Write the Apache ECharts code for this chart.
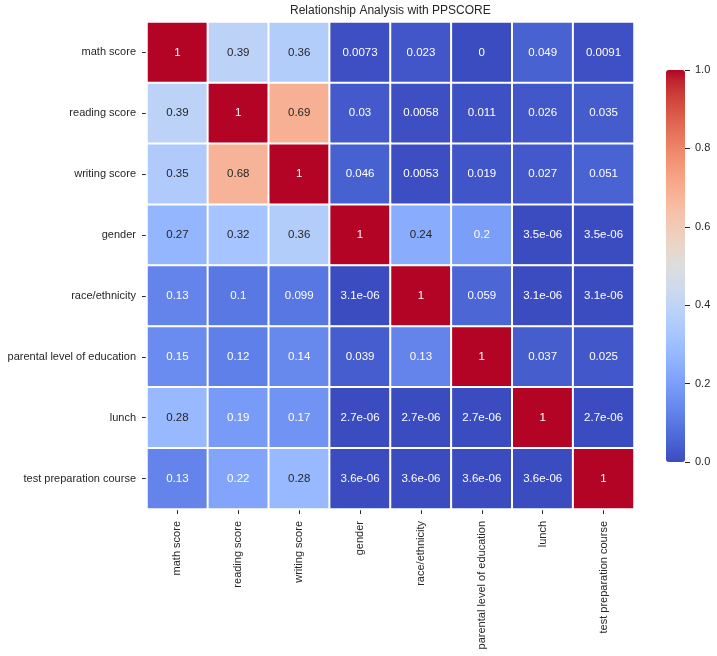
<!DOCTYPE html>
<html>
<head>
<meta charset="utf-8">
<script src="https://cdn.jsdelivr.net/npm/echarts@6/dist/echarts.min.js"></script>
<style>
html,body{margin:0;padding:0;background:#fff;}
#main{width:717px;height:656px;}
</style>
</head>
<body>
<div id="main"></div>
<script>
// ---- Data ----
const titleText = 'Relationship Analysis with PPSCORE';
const features = ['math score','reading score','writing score','gender','race/ethnicity','parental level of education','lunch','test preparation course'];
const rowMath = [1, 0.39, 0.36, 0.0073, 0.023, 0, 0.049, 0.0091];
const rowReading = [0.39, 1, 0.69, 0.03, 0.0058, 0.011, 0.026, 0.035];
const rowWriting = [0.35, 0.68, 1, 0.046, 0.0053, 0.019, 0.027, 0.051];
const rowGender = [0.27, 0.32, 0.36, 1, 0.24, 0.2, 3.5e-6, 3.5e-6];
const rowRace = [0.13, 0.1, 0.099, 3.1e-6, 1, 0.059, 3.1e-6, 3.1e-6];
const rowParental = [0.15, 0.12, 0.14, 0.039, 0.13, 1, 0.037, 0.025];
const rowLunch = [0.28, 0.19, 0.17, 2.7e-6, 2.7e-6, 2.7e-6, 1, 2.7e-6];
const rowPrep = [0.13, 0.22, 0.28, 3.6e-6, 3.6e-6, 3.6e-6, 3.6e-6, 1];
const colorbarMin = 0, colorbarMax = 1, colorbarStep = 0.2;

const rows = [rowMath, rowReading, rowWriting, rowGender, rowRace, rowParental, rowLunch, rowPrep];

// coolwarm colormap stops
const coolwarm = [
 [59,76,192],[68,90,204],[77,104,215],[87,117,225],[98,130,234],[108,142,241],[119,154,247],[130,165,251],
 [141,176,254],[152,185,255],[163,194,255],[174,201,253],[184,208,249],[194,213,244],[204,217,238],[213,219,230],
 [221,221,221],[229,216,209],[236,211,197],[241,204,185],[245,196,173],[247,187,160],[247,177,148],[247,166,135],
 [244,154,123],[241,141,111],[236,127,99],[229,112,88],[222,96,77],[213,80,66],[203,62,56],[192,40,47],[180,4,38]
].map(c => 'rgb(' + c.join(',') + ')');

function fmtG2(v) {
  if (v === 0) return '0';
  const e = Math.floor(Math.log10(Math.abs(v)));
  if (e < -4 || e >= 2) {
    let s = v.toExponential(1);
    let [m, ex] = s.split('e');
    if (m.indexOf('.') >= 0) m = m.replace(/0+$/, '').replace(/\.$/, '');
    let sign = ex[0] === '-' ? '-' : '+';
    let digits = ex.replace(/^[+-]/, '');
    if (digits.length < 2) digits = '0' + digits;
    return m + 'e' + sign + digits;
  }
  let s = v.toPrecision(2);
  if (s.indexOf('.') >= 0) s = s.replace(/0+$/, '').replace(/\.$/, '');
  return s;
}

const data = [];
rows.forEach((r, yi) => {
  r.forEach((v, xi) => {
    const dark = v > 0.225 && v < 0.8;
    data.push({ value: [xi, yi, v], label: { color: dark ? '#262626' : '#ffffff' } });
  });
});

const chart = echarts.init(document.getElementById('main'), null, { renderer: 'canvas' });
const textColor = '#262626';
const font = '"Liberation Sans", Arial, sans-serif';

chart.setOption({
  backgroundColor: '#ffffff',
  animation: false,
  textStyle: { fontFamily: font },
  title: {
    text: titleText,
    left: 290, top: 5, padding: 0,
    textStyle: { fontSize: 12, fontWeight: 'normal', color: textColor, fontFamily: font }
  },
  grid: [
    { left: 147, top: 22, width: 487, height: 487, containLabel: false, outerBoundsMode: 'none' },
    { left: 685, top: 70, width: 10, height: 392, containLabel: false, outerBoundsMode: 'none' }
  ],
  xAxis: [
    {
      type: 'category', data: features, gridIndex: 0, position: 'bottom',
      axisLine: { show: false },
      axisTick: { show: true, alignWithLabel: true, length: 5, lineStyle: { color: textColor, width: 1 } },
      axisLabel: { rotate: 90, fontSize: 11, color: textColor, margin: 12, fontFamily: font },
      splitLine: { show: false }
    },
    { type: 'value', gridIndex: 1, show: false, min: colorbarMin, max: colorbarMax }
  ],
  yAxis: [
    {
      type: 'category', data: features, gridIndex: 0, inverse: true,
      axisLine: { show: false },
      axisTick: { show: true, alignWithLabel: true, length: 5, lineStyle: { color: textColor, width: 1 } },
      axisLabel: { fontSize: 11, color: textColor, margin: 11, fontFamily: font },
      splitLine: { show: false }
    },
    {
      type: 'value', gridIndex: 1, position: 'left', min: colorbarMin, max: colorbarMax, interval: colorbarStep,
      z: 10,
      axisLine: { show: false },
      axisTick: { show: true, inside: true, length: 5, lineStyle: { color: textColor, width: 1 } },
      axisLabel: { inside: true, fontSize: 11, color: textColor, margin: 10, fontFamily: font, formatter: v => v.toFixed(1) },
      splitLine: { show: false }
    }
  ],
  visualMap: {
    type: 'continuous', min: colorbarMin, max: colorbarMax, seriesIndex: 0,
    calculable: false, realtime: false, hoverLink: false, z: 1,
    orient: 'vertical', left: 666, top: 70, padding: 0,
    itemWidth: 19, itemHeight: 392, text: null, showLabel: false,
    borderRadius: 0, itemStyle: { borderRadius: 0 },
    inRange: { color: coolwarm }
  },
  series: [
    {
      type: 'heatmap', xAxisIndex: 0, yAxisIndex: 0, data: data,
      itemStyle: { borderColor: '#ffffff', borderWidth: 2 },
      label: {
        show: true, fontSize: 11.5, fontFamily: font,
        formatter: p => fmtG2(p.value[2])
      },
      emphasis: { disabled: true }
    },
    { type: 'scatter', xAxisIndex: 1, yAxisIndex: 1, data: [], silent: true }
  ]
});
</script>
</body>
</html>
